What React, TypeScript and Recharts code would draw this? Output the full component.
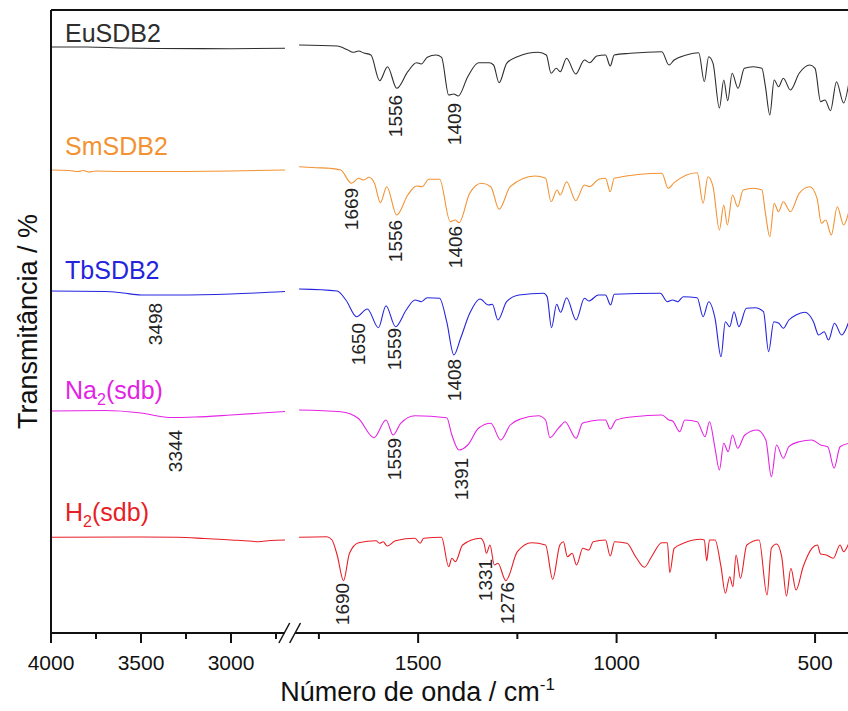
import React from "react";
import { LineChart, Line, XAxis, YAxis, ReferenceLine, ReferenceDot } from "recharts";

type Pt = [number, number]; // [wavenumber cm-1, stacked transmittance (a.u.)]

// ---- spectra ----
const euLeft: Pt[] = [[4000, 586], [3800, 586], [3600, 585], [3400, 584.5], [3000, 584.3], [2700, 584.7]];
const euRight: Pt[] = [
  [1800, 588], [1704, 587], [1677, 583], [1664, 580.7], [1650, 582], [1637, 580], [1619, 578],
  [1597, 552.3], [1577, 566.3], [1554, 544.7], [1526, 561.3], [1504, 570.3], [1492, 569],
  [1477, 575.7], [1455, 578], [1441, 575.7], [1423, 538], [1410, 539], [1399, 537],
  [1375, 556.3], [1348, 570.3], [1321, 570.3], [1310, 568], [1296, 550.3], [1277, 569.7],
  [1250, 576.3], [1197, 580.7], [1177, 578], [1165, 559.7], [1152, 564.7], [1142, 561.3],
  [1126, 574.7], [1103, 559], [1081, 573], [1068, 570.3], [1050, 577], [1028, 578],
  [1016, 567], [1006, 578], [966, 579.7], [886, 581.3], [868, 568], [855, 573], [824, 578],
  [793, 580.3], [779, 551.3], [768, 576.3], [757, 569.7], [741, 525], [730, 553], [720, 532.3],
  [709, 559.7], [694, 544.7], [678, 564.7], [656, 566.3], [634, 564.7], [625, 546.3], [614, 518],
  [603, 553], [592, 546.3], [580, 554.7], [562, 543], [540, 559.7], [513, 568], [500, 564.7],
  [486, 531.3], [475, 533], [461, 522.3], [446, 551.3], [428, 530], [415, 549.7],
];

const smLeft: Pt[] = [
  [4000, 463], [3900, 462.5], [3850, 461.5], [3820, 462.5], [3790, 461], [3750, 462],
  [3600, 461.5], [3300, 461.5], [3000, 462], [2700, 463],
];
const smRight: Pt[] = [
  [1800, 466.3], [1757, 465.3], [1722, 464.7], [1695, 463], [1668, 449.7], [1650, 454.7],
  [1637, 453], [1624, 455.7], [1610, 449.7], [1595, 430.3], [1579, 446.3], [1554, 418],
  [1526, 438], [1504, 447], [1490, 446.3], [1473, 453.7], [1446, 453.7], [1419, 411.3],
  [1406, 413], [1397, 410.3], [1370, 439.7], [1340, 449.7], [1317, 446.3], [1296, 423.7],
  [1268, 446.3], [1206, 457], [1179, 454.7], [1165, 431.3], [1150, 443], [1142, 438],
  [1126, 451.3], [1103, 432.3], [1081, 448], [1068, 446.3], [1045, 453.7], [1028, 454.7],
  [1016, 441.3], [1006, 454.7], [886, 459.7], [870, 444.7], [855, 450.3], [797, 460.3],
  [782, 429.7], [770, 456.3], [757, 446.3], [741, 403], [730, 428], [721, 408], [708, 438],
  [695, 426.3], [681, 443], [655, 444.7], [634, 443], [625, 419.7], [614, 396.3], [603, 429.7],
  [592, 421.3], [580, 431.3], [562, 421.3], [540, 439.7], [513, 446.3], [495, 434.7],
  [484, 409.7], [473, 413], [459, 398], [444, 426.3], [428, 408], [415, 421.3],
];

const tbLeft: Pt[] = [[4000, 342], [3700, 341.5], [3600, 340], [3500, 338], [3300, 338], [3000, 339], [2700, 341.5]];
const tbRight: Pt[] = [
  [1800, 344], [1704, 342], [1682, 333], [1655, 316.3], [1628, 324], [1600, 305.3],
  [1581, 327.3], [1557, 306.3], [1530, 323], [1508, 333], [1492, 331.3], [1477, 335.3],
  [1446, 334.7], [1428, 311.3], [1410, 278], [1393, 294.7], [1370, 319.7], [1344, 334],
  [1323, 328], [1313, 328.7], [1299, 313], [1277, 331.3], [1246, 338], [1184, 339.7],
  [1175, 336.3], [1164, 305.3], [1151, 328.7], [1141, 320.7], [1126, 335.3], [1102, 313],
  [1081, 334.7], [1070, 332], [1046, 338], [1028, 338], [1015, 328], [1006, 338.7],
  [890, 339.7], [872, 331.3], [859, 333], [846, 331.3], [832, 336.3], [797, 335.3],
  [782, 316.3], [768, 331.3], [752, 314.7], [737, 276.3], [726, 311.3], [715, 306.3],
  [704, 321.3], [692, 306.3], [673, 324.7], [651, 325.3], [630, 321.3], [617, 281.3],
  [604, 311.3], [591, 309.7], [580, 304.7], [566, 313], [548, 318], [526, 320.7],
  [504, 311.3], [491, 298], [477, 301.3], [466, 293], [451, 309.7], [433, 298], [415, 311.3],
];

const naLeft: Pt[] = [[4000, 222], [3700, 222.5], [3500, 220], [3344, 215.5], [3200, 216], [3000, 218], [2700, 221.5]];
const naRight: Pt[] = [
  [1800, 223], [1695, 221.3], [1651, 214.7], [1611, 195.3], [1581, 213], [1563, 198],
  [1544, 209.7], [1508, 217.3], [1428, 215.3], [1415, 198], [1397, 183], [1375, 188],
  [1348, 204.7], [1317, 209.7], [1292, 193], [1268, 208], [1242, 214], [1197, 217.3],
  [1179, 213], [1168, 195.3], [1147, 204.7], [1139, 208], [1130, 211.3], [1102, 194.7],
  [1086, 209.7], [1072, 211.3], [1045, 213], [1028, 213], [1016, 204], [1001, 213],
  [957, 216.3], [886, 218], [868, 213], [859, 212], [841, 201.3], [828, 213], [797, 211.3],
  [777, 196.3], [766, 211.3], [752, 184.7], [741, 163], [730, 189.7], [719, 181.3],
  [708, 198], [695, 184.7], [677, 198], [646, 203], [624, 193], [610, 156.3], [597, 188],
  [580, 174.7], [566, 186.3], [540, 191.3], [508, 193], [486, 188], [468, 186.3],
  [452, 164.7], [437, 186.3], [415, 189.7],
];

const hLeft: Pt[] = [
  [4000, 95.7], [3500, 96], [3300, 95.7], [3150, 94.5], [3000, 93], [2900, 92],
  [2850, 91.3], [2780, 92.5], [2700, 93],
];
const hRight: Pt[] = [
  [1800, 95.7], [1730, 96.3], [1717, 93], [1704, 78], [1688, 52.3], [1673, 79.7],
  [1650, 90.3], [1606, 92.3], [1597, 89.7], [1588, 91.3], [1578, 87], [1557, 92.3],
  [1508, 94.7], [1495, 89.7], [1486, 94.7], [1441, 95.7], [1423, 66.3], [1415, 74.7],
  [1406, 71.3], [1388, 88], [1343, 94.7], [1334, 89.7], [1328, 79.7], [1319, 88],
  [1308, 68], [1299, 69.7], [1279, 52.3], [1250, 81.3], [1214, 90.3], [1179, 88],
  [1161, 53.7], [1143, 88], [1134, 91.3], [1124, 76.3], [1112, 79.7], [1101, 68],
  [1085, 84.7], [1070, 83], [1059, 91.3], [1028, 93], [1016, 77], [1005, 91.3], [974, 89.7],
  [952, 76.3], [930, 65.7], [912, 76.3], [886, 90.3], [872, 90.3], [866, 60.3], [855, 84.7],
  [832, 89.7], [788, 93.7], [779, 93], [773, 72.3], [766, 93], [752, 93], [737, 66.3],
  [726, 39.7], [715, 56.3], [707, 46.3], [699, 78], [688, 54.7], [672, 88], [641, 93],
  [621, 38], [610, 84.7], [597, 89], [584, 76.3], [572, 37], [561, 64.7], [548, 43],
  [530, 66.3], [508, 84.7], [494, 88], [486, 79], [472, 78], [454, 74.7], [437, 88],
  [428, 81.3], [415, 89.7],
];

// peak annotations: label, where it sits on the wavenumber axis, height (a.u.)
const peakLabels = [
  { label: "1556", at: 1556, v: 517 },
  { label: "1409", at: 1409, v: 509 },
  { label: "1669", at: 1669, v: 424 },
  { label: "1556", at: 1556, v: 392 },
  { label: "1406", at: 1406, v: 386 },
  { label: "3498", at: 3422, v: 309 },
  { label: "1650", at: 1650, v: 289 },
  { label: "1559", at: 1559, v: 284 },
  { label: "1408", at: 1408, v: 253 },
  { label: "3344", at: 3311, v: 182 },
  { label: "1559", at: 1559, v: 174 },
  { label: "1391", at: 1391, v: 154 },
  { label: "1690", at: 1690, v: 29 },
  { label: "1331", at: 1331, v: 53 },
  { label: "1276", at: 1276, v: 30 },
];

const majorTicks = [4000, 3500, 3000, 1500, 1000, 500];
const minorTicks = [3750, 3250, 2750, 1750, 1250, 750];

// ---- broken axis: 4000-2700 | 1800-417, the right part stretched ----
const Y_MAX = 623;
const LEFT_END = 2700;
const RIGHT_START = 1800;
const RIGHT_END = 417;
const STRETCH = 2.205;
const GAP = 78;
const toU = (wn: number) =>
  wn >= LEFT_END ? 4000 - wn : 4000 - LEFT_END + GAP + (RIGHT_START - wn) * STRETCH;
const fromU = (u: number) =>
  u <= 4000 - LEFT_END + GAP / 2 ? 4000 - u : RIGHT_START - (u - (4000 - LEFT_END + GAP)) / STRETCH;
const U_MAX = toU(RIGHT_END);
const BREAK_U = 1326;
const SLASH = 30;

const FONT = "'Liberation Sans', Arial, Helvetica, sans-serif";

const toPoints = (left: Pt[], right: Pt[]) => [
  ...left.map(([wn, v]) => ({ u: toU(wn), v })),
  { u: BREAK_U, v: null },
  ...right.map(([wn, v]) => ({ u: toU(wn), v })),
];

const series = [
  { key: "eu", name: "EuSDB2", sub: "", rest: "", color: "#2e2e2e", nameV: 591, left: euLeft, right: euRight },
  { key: "sm", name: "SmSDB2", sub: "", rest: "", color: "#F39232", nameV: 478, left: smLeft, right: smRight },
  { key: "tb", name: "TbSDB2", sub: "", rest: "", color: "#2424DE", nameV: 354, left: tbLeft, right: tbRight },
  { key: "na", name: "Na", sub: "2", rest: "(sdb)", color: "#E424E4", nameV: 234, left: naLeft, right: naRight },
  { key: "h", name: "H", sub: "2", rest: "(sdb)", color: "#E81E26", nameV: 112, left: hLeft, right: hRight },
];

const AxisTick = (props: any) => {
  const { x, y, payload } = props;
  const wn = Math.round(fromU(payload.value));
  const major = majorTicks.includes(wn);
  return (
    <g>
      <line x1={x} x2={x} y1={y} y2={y + (major ? 10 : 6)} stroke="#111" strokeWidth={2} />
      {major && (
        <text x={x} y={y + 37} textAnchor="middle" fontSize={21} fontFamily={FONT} fill="#111">
          {wn}
        </text>
      )}
    </g>
  );
};

export default function App() {
  const axisStyle = { stroke: "#111", strokeWidth: 2 };
  return (
    <div style={{ width: 848, height: 711, background: "#fff" }}>
      <style>{"body{margin:0}"}</style>
      <LineChart width={848} height={711} margin={{ top: 10, right: 0, bottom: 18, left: 0 }}>
        <XAxis
          dataKey="u"
          type="number"
          domain={[0, U_MAX]}
          allowDataOverflow
          ticks={[...majorTicks, ...minorTicks].map(toU).sort((a, b) => a - b)}
          interval={0}
          tick={<AxisTick />}
          tickLine={false}
          tickSize={0}
          tickMargin={0}
          axisLine={false}
          height={60}
          label={(p: any) => {
            const vb = p.viewBox;
            const cx = vb.x + vb.width * 0.46;
            return (
              <text x={cx} y={vb.y + 68} textAnchor="middle" fontSize={27} fontFamily={FONT} fill="#111">
                Número de onda / cm<tspan fontSize={17} dy={-11}>-1</tspan>
              </text>
            );
          }}
        />
        <YAxis
          type="number"
          domain={[0, Y_MAX]}
          allowDataOverflow
          width={51}
          tick={false}
          tickLine={false}
          axisLine={axisStyle}
          label={(p: any) => {
            const vb = p.viewBox;
            const lx = vb.x + 37;
            const ly = vb.y + vb.height / 2;
            return (
              <text x={lx} y={ly} transform={`rotate(-90 ${lx} ${ly})`} textAnchor="middle" fontSize={27} fontFamily={FONT} fill="#111">
                Transmitância / %
              </text>
            );
          }}
        />
        <ReferenceLine y={Y_MAX} stroke="#111" strokeWidth={2} ifOverflow="visible" />
        <ReferenceLine segment={[{ x: 0, y: 0 }, { x: BREAK_U - SLASH, y: 0 }]} stroke="#111" strokeWidth={2} ifOverflow="visible" />
        <ReferenceLine segment={[{ x: BREAK_U + SLASH, y: 0 }, { x: U_MAX, y: 0 }]} stroke="#111" strokeWidth={2} ifOverflow="visible" />
        <ReferenceLine segment={[{ x: BREAK_U - 2 * SLASH, y: -10 }, { x: BREAK_U, y: 10 }]} stroke="#111" strokeWidth={1.5} ifOverflow="visible" />
        <ReferenceLine segment={[{ x: BREAK_U, y: -10 }, { x: BREAK_U + 2 * SLASH, y: 10 }]} stroke="#111" strokeWidth={1.5} ifOverflow="visible" />
        {series.map((s) => (
          <Line
            key={s.key}
            data={toPoints(s.left, s.right)}
            dataKey="v"
            type="monotone"
            stroke={s.color}
            strokeWidth={1.1}
            dot={false}
            activeDot={false}
            connectNulls={false}
            isAnimationActive={false}
          />
        ))}
        {series.map((s) => (
          <ReferenceDot
            key={"n" + s.key}
            x={toU(3922)}
            y={s.nameV}
            r={0}
            ifOverflow="visible"
            shape={(p: any) => (
              <text x={p.cx} y={p.cy} fontSize={25} fontFamily={FONT} fill={s.color}>
                {s.name}
                {s.sub && <tspan fontSize={16} dy={6}>{s.sub}</tspan>}
                {s.rest && <tspan dy={-6}>{s.rest}</tspan>}
              </text>
            )}
          />
        ))}
        {peakLabels.map((p, i) => (
          <ReferenceDot
            key={"p" + i}
            x={toU(p.at)}
            y={p.v}
            r={0}
            ifOverflow="visible"
            shape={(d: any) => (
              <text
                x={d.cx}
                y={d.cy}
                transform={`rotate(-90 ${d.cx} ${d.cy})`}
                textAnchor="middle"
                dominantBaseline="central"
                fontSize={19}
                fontFamily={FONT}
                fill="#222"
              >
                {p.label}
              </text>
            )}
          />
        ))}
      </LineChart>
    </div>
  );
}
